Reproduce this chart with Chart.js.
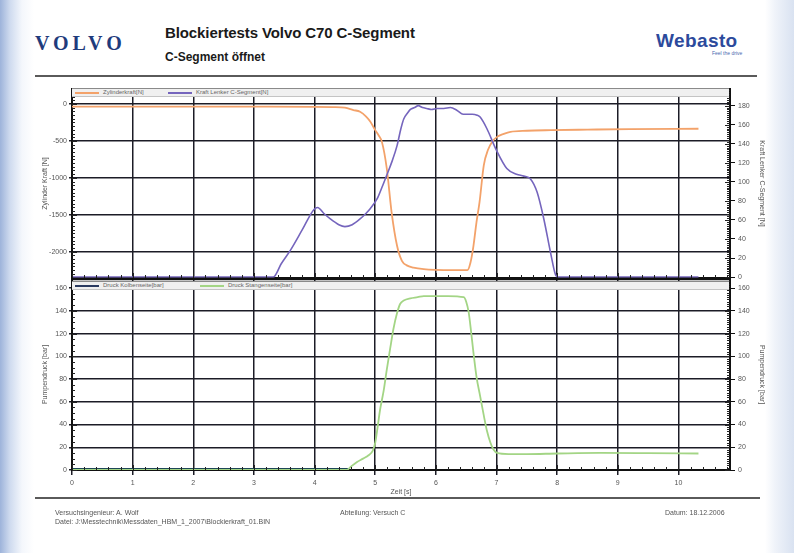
<!DOCTYPE html>
<html><head><meta charset="utf-8">
<script src="https://cdn.jsdelivr.net/npm/chart.js@4.4.0/dist/chart.umd.min.js"></script>
<style>
html,body{margin:0;padding:0;}
body{width:794px;height:553px;overflow:hidden;position:relative;font-family:"Liberation Sans",Arial,sans-serif;
 background:linear-gradient(to right,#9db3da 0px,#cfdbef 10px,#f4f7fc 22px,#ffffff 34px,#ffffff 765px,#eef2f9 776px,#d9e2f1 794px);}
.abs{position:absolute;white-space:nowrap;}
canvas{position:absolute;left:0;top:0;}
#volvo{left:35px;top:33px;font-family:"Liberation Serif","DejaVu Serif",serif;font-weight:bold;font-size:20px;letter-spacing:4px;color:#1f3b7c;line-height:20px;}
#title{left:165px;top:25px;font-weight:bold;font-size:15px;line-height:16px;color:#1a1a1a;letter-spacing:-0.1px;}
#sub{left:165px;top:50px;font-weight:bold;font-size:12px;line-height:14px;color:#1a1a1a;}
#webasto{left:656px;top:31px;font-weight:bold;font-size:19px;line-height:19px;color:#2c4a9c;letter-spacing:0.4px;}
#feel{left:712px;top:50px;font-size:5px;color:#4a6ab0;}
.hline{position:absolute;height:2px;background:#5a5a5a;}
.strip{position:absolute;left:72px;width:657px;height:7px;background:#f0f0f0;border-top:1px solid #8a8a8a;border-bottom:1px solid #c4c4c4;z-index:5;}
.ln{position:absolute;top:3px;width:24px;height:2px;}
.lt{position:absolute;top:0px;font-size:6px;line-height:7px;color:#666;}
.foot{position:absolute;font-size:7px;line-height:9px;color:#555;white-space:nowrap;}
</style>
</head><body>
<div class="abs" id="volvo">VOLVO</div>
<div class="abs" id="title">Blockiertests Volvo C70 C-Segment</div>
<div class="abs" id="sub">C-Segment öffnet</div>
<div class="abs" id="webasto">Webasto</div>
<div class="abs" id="feel">Feel the drive</div>
<div class="hline" style="left:35px;top:75px;width:722px;"></div>

<canvas id="c1" width="794" height="553"></canvas>
<canvas id="c2" width="794" height="553"></canvas>

<div class="strip" style="top:88px;">
  <span class="ln" style="left:3px;background:#f3a26a"></span><span class="lt" style="left:31px">Zylinderkraft[N]</span>
  <span class="ln" style="left:96px;background:#7565bd"></span><span class="lt" style="left:124px">Kraft Lenker C-Segment[N]</span>
</div>
<div class="strip" style="top:281px;">
  <span class="ln" style="left:3px;background:#2a3a60"></span><span class="lt" style="left:31px">Druck Kolbenseite[bar]</span>
  <span class="ln" style="left:128px;background:#a3d585"></span><span class="lt" style="left:156px">Druck Stangenseite[bar]</span>
</div>

<div class="hline" style="left:35px;top:497px;width:725px;"></div>
<div class="foot" style="left:55px;top:508px;">Versuchsingenieur: A. Wolf</div>
<div class="foot" style="left:55px;top:517px;">Datei: J:\Messtechnik\Messdaten_HBM_1_2007\Blockierkraft_01.BIN</div>
<div class="foot" style="left:340px;top:508px;">Abteilung: Versuch C</div>
<div class="foot" style="left:665px;top:508px;">Datum: 18.12.2006</div>

<script>
// ---- data (time in s) ----
const timeZyl = [0, 1, 2, 3, 4, 4.3, 4.5, 4.64, 4.75, 4.85, 4.92, 5.0, 5.06, 5.11, 5.19, 5.27, 5.36, 5.44, 5.52, 5.63, 5.8, 6.0, 6.3, 6.52, 6.57, 6.62, 6.67, 6.72, 6.79, 6.86, 6.93, 7.01, 7.12, 7.23, 7.5, 7.9, 8.5, 9.2, 10.33];
const zylKraft = [-35, -35, -35, -36, -38, -42, -50, -82, -105, -170, -240, -354, -430, -513, -870, -1466, -1920, -2125, -2185, -2215, -2237, -2247, -2250, -2250, -2150, -1920, -1600, -1330, -830, -620, -510, -445, -405, -377, -362, -354, -347, -340, -335];

const timeLenker = [0, 3.32, 3.45, 3.6, 3.8, 3.99, 4.05, 4.15, 4.26, 4.4, 4.5, 4.62, 4.75, 4.85, 4.92, 5.03, 5.11, 5.19, 5.28, 5.36, 5.42, 5.47, 5.53, 5.58, 5.65, 5.71, 5.78, 5.85, 5.93, 6.02, 6.13, 6.24, 6.35, 6.45, 6.6, 6.68, 6.73, 6.84, 7.0, 7.17, 7.33, 7.45, 7.56, 7.67, 7.78, 7.89, 7.97, 8.02, 9.0, 10.33];
const lenkerKraft = [0, 0, 14, 28, 50, 71, 73, 67, 61, 55, 53, 55, 61, 67, 72, 82, 94, 107, 122, 138, 155, 166, 172, 176, 178, 180, 178, 177, 176, 177, 177, 178, 175, 171, 171, 170, 168, 156, 133, 114, 108, 106, 103, 89, 61, 26, 3, 0, 0, 0];

const timeKolben = [0, 4.55];
const druckKolben = [0.8, 0.8];

const timeStange = [0, 4.53, 4.6, 4.7, 4.8, 4.89, 4.96, 5.0, 5.04, 5.08, 5.14, 5.19, 5.25, 5.30, 5.36, 5.41, 5.47, 5.58, 5.7, 5.8, 6.0, 6.2, 6.46, 6.5, 6.54, 6.58, 6.62, 6.67, 6.73, 6.79, 6.84, 6.9, 6.95, 7.01, 7.2, 7.5, 8.0, 8.7, 9.5, 10.33];
const druckStange = [0, 0, 3, 7, 10, 13, 17, 24, 38, 53, 70, 88, 108, 124, 138, 146, 149, 151, 152, 153, 153, 153, 152, 148, 139, 122, 103, 82, 65, 48, 35, 24, 18, 15, 14, 14, 14.5, 15, 14.8, 14.5];

// ---- tick labels ----
const zeitTicks = [0, 1, 2, 3, 4, 5, 6, 7, 8, 9, 10];
const kraftTicks = [0, -500, -1000, -1500, -2000];
const lenkerTicks = [0, 20, 40, 60, 80, 100, 120, 140, 160, 180];
const druckTicks = [0, 20, 40, 60, 80, 100, 120, 140, 160];

const FONT = '"Liberation Sans", Arial, sans-serif';
const GRID = '#1c1c26';
const pts = (t, v) => t.map((x, i) => ({x: x, y: v[i]}));
const setTicks = arr => s => { s.ticks = arr.map(v => ({value: v})); };

const minorTicks = {
  id: 'minorTicks',
  afterDraw(chart, args, opts) {
    const ctx = chart.ctx, a = chart.chartArea;
    ctx.save();
    ctx.strokeStyle = '#222';
    ctx.lineWidth = 1;
    (opts.list || []).forEach(s => {
      const sc = chart.scales[s.id];
      const n0 = Math.ceil(sc.min / s.step - 1e-9), n1 = Math.floor(sc.max / s.step + 1e-9);
      for (let n = n0; n <= n1; n++) {
        const v = n * s.step;
        const major = Math.abs(v / s.major - Math.round(v / s.major)) < 1e-6;
        const len = major ? 5 : 3;
        const p = Math.round(sc.getPixelForValue(v)) + 0.5;
        ctx.beginPath();
        if (s.edge === 'bottom') { ctx.moveTo(p, a.bottom); ctx.lineTo(p, a.bottom - len); }
        else if (s.edge === 'left') { ctx.moveTo(a.left, p); ctx.lineTo(a.left + len, p); }
        else { ctx.moveTo(a.right, p); ctx.lineTo(a.right - len, p); }
        ctx.stroke();
      }
    });
    if (opts.frameTop) {
      ctx.lineWidth = 2.5; ctx.strokeStyle = '#111';
      ctx.beginPath(); ctx.moveTo(a.left, a.top); ctx.lineTo(a.right, a.top); ctx.stroke();
    }
    ctx.restore();
  }
};

const tickFont = {size: 7, family: FONT};
const titleFont = {size: 7, family: FONT};
const numLabel = v => String(v);

// ---- top panel ----
new Chart(document.getElementById('c1'), {
  type: 'line',
  data: {datasets: [
    {label: 'Kraft Lenker C-Segment[N]', data: pts(timeLenker, lenkerKraft), yAxisID: 'yR', borderColor: '#7565bd', borderWidth: 1.6, pointRadius: 0, cubicInterpolationMode: 'monotone'},
    {label: 'Zylinderkraft[N]', data: pts(timeZyl, zylKraft), yAxisID: 'yL', borderColor: '#f3a26a', borderWidth: 1.8, pointRadius: 0, cubicInterpolationMode: 'monotone'}
  ]},
  options: {
    responsive: false, animation: false, events: [],
    layout: {padding: {left: 41, right: 28, top: 89, bottom: 275}},
    plugins: {legend: {display: false}, tooltip: {enabled: false},
      minorTicks: {list: [
        {id: 'x', step: 0.2, major: 1, edge: 'bottom'},
        {id: 'yL', step: 50, major: 500, edge: 'left'},
        {id: 'yR', step: 2, major: 20, edge: 'right'}]}},
    scales: {
      x: {type: 'linear', min: 0, max: 10.85, afterFit: s => { s.height = 0; }, afterBuildTicks: setTicks(zeitTicks),
          ticks: {display: false}, grid: {color: GRID, lineWidth: 1.5, drawTicks: false}, border: {color: '#111', width: 3}},
      yL: {type: 'linear', position: 'left', min: -2356, max: 203, afterFit: s => { s.width = 31; }, afterBuildTicks: setTicks(kraftTicks),
          ticks: {font: tickFont, color: '#555', padding: 2, callback: numLabel},
          grid: {color: GRID, lineWidth: 1.5, tickLength: 3}, border: {color: '#111', width: 2},
          title: {display: true, text: 'Zylinder Kraft [N]', font: titleFont, color: '#555', padding: 0}},
      yR: {type: 'linear', position: 'right', min: -1, max: 197.5, afterFit: s => { s.width = 36; }, afterBuildTicks: setTicks(lenkerTicks),
          ticks: {font: tickFont, color: '#555', padding: 3, callback: numLabel},
          grid: {drawOnChartArea: false, color: '#111', tickLength: 5}, border: {color: '#111', width: 2},
          title: {display: true, text: 'Kraft Lenker C-Segment [N]', font: titleFont, color: '#555', padding: 0}}
    }
  },
  plugins: [minorTicks]
});

// ---- bottom panel ----
new Chart(document.getElementById('c2'), {
  type: 'line',
  data: {datasets: [
    {label: 'Druck Stangenseite[bar]', data: pts(timeStange, druckStange), yAxisID: 'yL', borderColor: '#a3d585', borderWidth: 1.8, pointRadius: 0, cubicInterpolationMode: 'monotone'},
    {label: 'Druck Kolbenseite[bar]', data: pts(timeKolben, druckKolben), yAxisID: 'yL', borderColor: '#1d4656', borderWidth: 2, pointRadius: 0}
  ]},
  options: {
    responsive: false, animation: false, events: [],
    layout: {padding: {left: 41, right: 28, top: 279, bottom: 53}},
    plugins: {legend: {display: false}, tooltip: {enabled: false},
      minorTicks: {frameTop: true, list: [
        {id: 'x', step: 0.2, major: 1, edge: 'bottom'},
        {id: 'yL', step: 5, major: 20, edge: 'left'},
        {id: 'yR', step: 2, major: 20, edge: 'right'}]}},
    scales: {
      x: {type: 'linear', min: 0, max: 10.85, afterFit: s => { s.height = 30; }, afterBuildTicks: setTicks(zeitTicks),
          ticks: {font: tickFont, color: '#555', padding: 4, maxRotation: 0, callback: numLabel},
          grid: {color: GRID, lineWidth: 1.5, tickLength: 5}, border: {color: '#111', width: 2},
          title: {display: true, text: 'Zeit [s]', font: titleFont, color: '#555', padding: {top: 0, bottom: 4}}},
      yL: {type: 'linear', position: 'left', min: 0, max: 168, afterFit: s => { s.width = 31; }, afterBuildTicks: setTicks(druckTicks),
          ticks: {font: tickFont, color: '#555', padding: 2, callback: numLabel},
          grid: {color: GRID, lineWidth: 1.5, tickLength: 3}, border: {color: '#111', width: 2},
          title: {display: true, text: 'Pumpendruck [bar]', font: titleFont, color: '#555', padding: 0}},
      yR: {type: 'linear', position: 'right', min: 0, max: 168, afterFit: s => { s.width = 36; }, afterBuildTicks: setTicks(druckTicks),
          ticks: {font: tickFont, color: '#555', padding: 3, callback: numLabel},
          grid: {drawOnChartArea: false, color: '#111', tickLength: 5}, border: {color: '#111', width: 2},
          title: {display: true, text: 'Pumpendruck [bar]', font: titleFont, color: '#555', padding: 0}}
    }
  },
  plugins: [minorTicks]
});
</script>
</body></html>
